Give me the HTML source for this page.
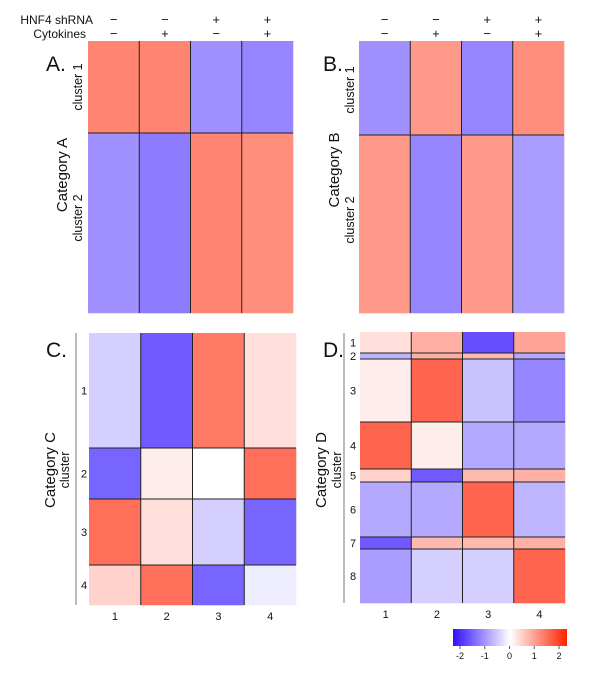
<!DOCTYPE html>
<html><head><meta charset="utf-8"><style>
html,body{margin:0;padding:0;background:#fff;width:600px;height:688px;overflow:hidden}
svg{display:block;font-family:"Liberation Sans",sans-serif}
</style></head><body>
<svg id="fig" width="600" height="688" viewBox="0 0 600 688">
<defs><linearGradient id="cb" x1="0" x2="1" y1="0" y2="0">
<stop offset="0" stop-color="#3010ff"/><stop offset="0.5" stop-color="#ffffff"/><stop offset="1" stop-color="#ff2200"/></linearGradient></defs>
<g font-size="12" fill="#111">
<text x="93" y="24" text-anchor="end">HNF4 shRNA</text>
<text x="86" y="38" text-anchor="end">Cytokines</text>
</g>
<g id="signs" font-size="13" fill="#111" text-anchor="middle"></g>
<g font-size="21" fill="#111">
<text x="46" y="71">A.</text>
<text x="323" y="71">B.</text>
<text x="46" y="357">C.</text>
<text x="323" y="357">D.</text>
</g>
<g font-size="15" fill="#111" text-anchor="middle">
<text transform="translate(67,175) rotate(-90)">Category A</text>
<text transform="translate(339,170) rotate(-90)">Category B</text>
<text transform="translate(55,470) rotate(-90)">Category C</text>
<text transform="translate(326,470) rotate(-90)">Category D</text>
</g>
<g font-size="12.5" fill="#111" text-anchor="middle">
<text transform="translate(82,87) rotate(-90)">cluster 1</text>
<text transform="translate(82,218) rotate(-90)">cluster 2</text>
<text transform="translate(354,90) rotate(-90)">cluster 1</text>
<text transform="translate(354,220) rotate(-90)">cluster 2</text>
<text transform="translate(69,470) rotate(-90)">cluster</text>
<text transform="translate(341,470) rotate(-90)">cluster</text>
</g>
<line x1="76" y1="333" x2="76" y2="605" stroke="#777" stroke-width="1"/>
<line x1="344" y1="333" x2="344" y2="603" stroke="#777" stroke-width="1"/>
<g id="maps"></g>
<g id="labels" font-size="11" fill="#111" text-anchor="middle"></g>
<g>
<rect x="453" y="629" width="114" height="17" fill="url(#cb)"/>
<g id="cbticks" font-size="9" fill="#111" text-anchor="middle"></g>
</g>
</svg>
<script>
// ---- data ----
const groupLabels = ["1","2","3","4"];
const shrnaSigns = ["−","−","+","+"];
const cytokineSigns = ["−","+","−","+"];
const sizesA = [92, 180];
const valuesA = [[1.0,1.0,-0.8,-0.9],[-0.8,-1.0,1.0,0.9]];
const sizesB = [94, 178];
const valuesB = [[-0.8,0.8,-0.9,0.9],[0.8,-0.9,0.8,-0.7]];
const sizesC = [115, 51, 66, 40];
const valuesC = [[-0.3,-1.3,1.1,0.2],[-1.2,0.1,0.0,1.2],[1.2,0.2,-0.3,-1.2],[0.3,1.2,-1.2,-0.1]];
const sizesD = [21, 6, 63, 47, 13, 55, 12, 54];
const valuesD = [[0.2,0.6,-1.4,0.7],[-0.5,0.6,0.5,-0.6],[0.1,1.3,-0.4,-0.9],[1.3,0.1,-0.6,-0.6],[0.3,-1.3,0.5,0.6],[-0.6,-0.6,1.3,-0.5],[-1.3,0.5,0.5,0.6],[-0.7,-0.3,-0.3,1.3]];
const legendTicks = [-2,-1,0,1,2];

const NS = "http://www.w3.org/2000/svg";
function color(v){
  v = Math.max(-2, Math.min(2, v)) / 2;
  const s = Math.sign(v), t = Math.pow(Math.abs(v), 0.85);
  let r,g,b;
  if (s < 0){ r=255+(48-255)*t; g=255+(16-255)*t; b=255; }
  else { r=255; g=255+(34-255)*t; b=255+(0-255)*t; }
  return `rgb(${r|0},${g|0},${b|0})`;
}
function mk(tag, attrs, parent){
  const e=document.createElementNS(NS,tag);
  for (const k in attrs) e.setAttribute(k, attrs[k]);
  parent.appendChild(e); return e;
}
const maps=document.getElementById('maps');
const labels=document.getElementById('labels');
function panel(id, x0, x1, y0, y1, sizes, values, clusterLabelX, showX){
  const g=mk('g',{},maps);
  
  
  const total=sizes.reduce((a,b)=>a+b,0);
  const yScale=c=>y0+(y1-y0)*c/total;
  const cw=(x1-x0)/groupLabels.length;
  let cum=0;
  sizes.forEach((s,ci)=>{
    const ya=yScale(cum), yb=yScale(cum+s);
    values[ci].forEach((v,gi)=>{
      const r=mk('rect',{x:x0+gi*cw,y:ya,width:cw+0.3,height:yb-ya+0.3,fill:color(v)},g);
      
      
    });
    if (clusterLabelX){
      const t=mk('text',{x:clusterLabelX,y:(ya+yb)/2+4},labels);
      t.textContent=String(ci+1);
      
      
    }
    if (ci>0){
      const l=mk('line',{x1:x0,x2:x1,y1:ya,y2:ya,stroke:'#222','stroke-width':1},g);
      
      
    }
    cum+=s;
  });
  for (let i=1;i<groupLabels.length;i++){
    const l=mk('line',{x1:x0+i*cw,x2:x0+i*cw,y1:y0,y2:y1,stroke:'#222','stroke-width':1},g);
    
    
  }
  if (showX){
    groupLabels.forEach((lab,i)=>{
      const t=mk('text',{x:x0+(i+0.5)*cw,y:y1+15},labels);
      t.textContent=lab;
      
      
    });
  }
  return {x0,cw};
}
const pa=panel('a',88,293,41,313,sizesA,valuesA,null,false);
const pb=panel('b',359,564,41,313,sizesB,valuesB,null,false);
panel('c',89,296,333,605,sizesC,valuesC,84,true);
panel('d',360,565,332,603,sizesD,valuesD,353,true);
const signs=document.getElementById('signs');
[pa,pb].forEach((p,pi)=>{
  groupLabels.forEach((_,i)=>{
    const cx=p.x0+(i+0.5)*p.cw;
    const t1=mk('text',{x:cx,y:24},signs); t1.textContent=shrnaSigns[i];
    
    
    const t2=mk('text',{x:cx,y:38},signs); t2.textContent=cytokineSigns[i];
    
    
  });
});
const cbt=document.getElementById('cbticks');
legendTicks.forEach(v=>{
  const x=460+(v+2)/4*99;
  const l=mk('line',{x1:x,x2:x,y1:646,y2:649,stroke:'#555'},cbt);
  
  
  const t=mk('text',{x:x,y:659},cbt); t.textContent=String(v);
  
  
});
</script>
</body></html>
